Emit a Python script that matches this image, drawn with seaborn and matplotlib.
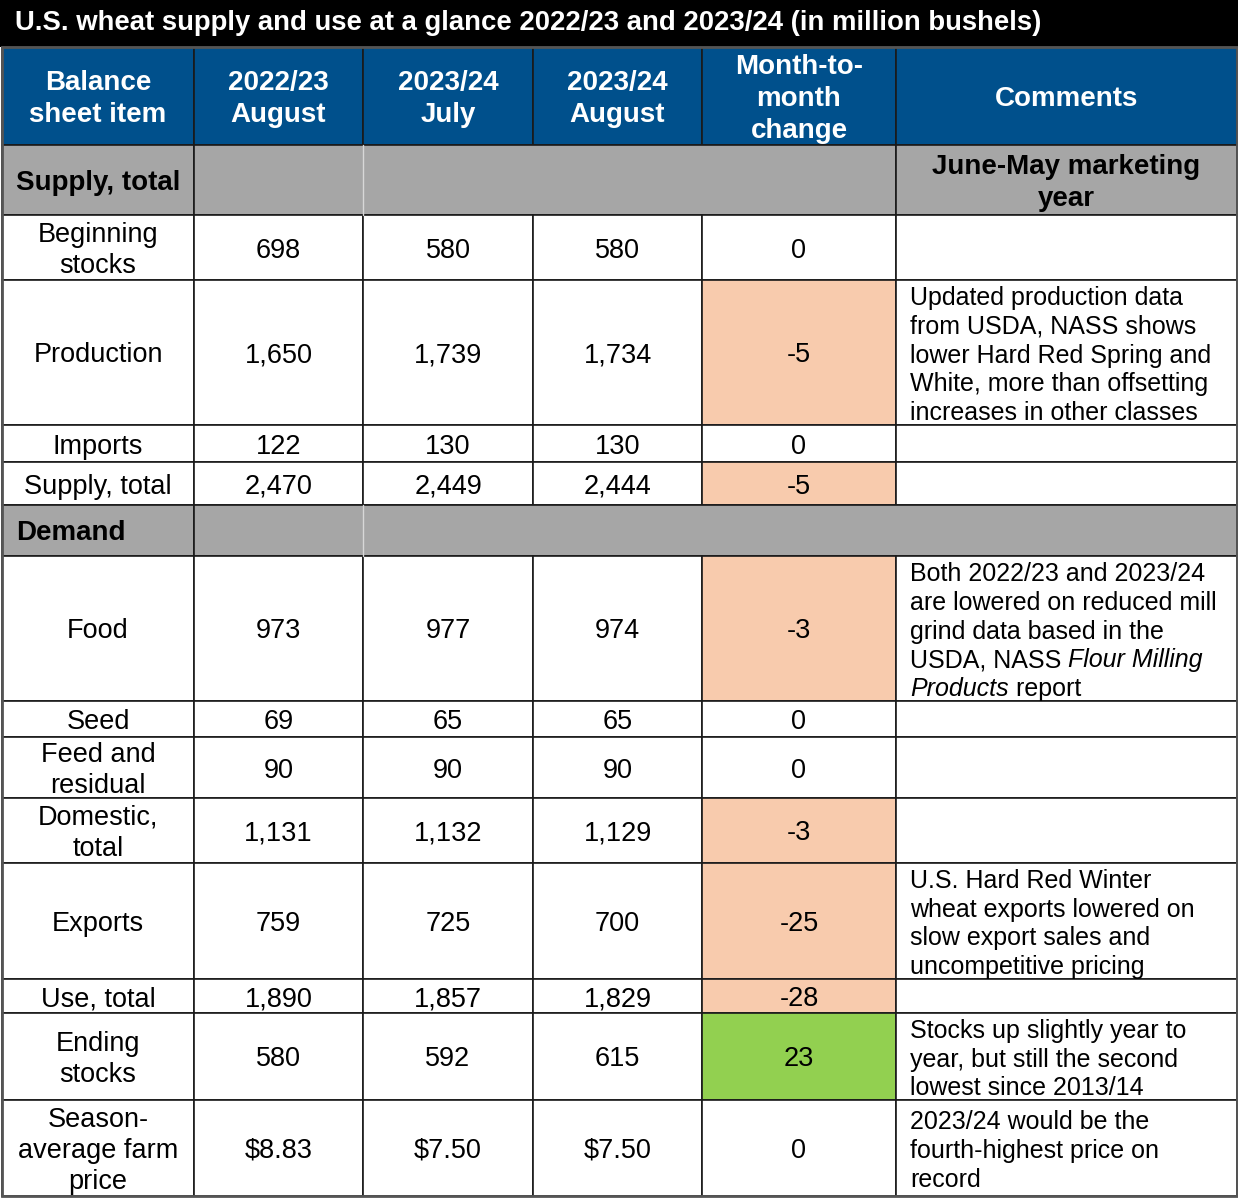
import matplotlib.pyplot as plt
import seaborn as sns
from matplotlib.patches import Rectangle

# table content
title = "U.S. wheat supply and use at a glance 2022/23 and 2023/24 (in million bushels)"
headers = ["Balance\nsheet item", "2022/23\nAugust", "2023/24\nJuly", "2023/24\nAugust",
           "Month-to-\nmonth\nchange", "Comments"]
sections = ["Supply, total", "Demand"]
section_note = "June-May marketing\nyear"

items = ["Beginning\nstocks", "Production", "Imports", "Supply, total",
         "Food", "Seed", "Feed and\nresidual", "Domestic,\ntotal", "Exports",
         "Use, total", "Ending\nstocks", "Season-\naverage farm\nprice"]
aug_2223 = [698, 1650, 122, 2470, 973, 69, 90, 1131, 759, 1890, 580, 8.83]
jul_2324 = [580, 1739, 130, 2449, 977, 65, 90, 1132, 725, 1857, 592, 7.50]
aug_2324 = [580, 1734, 130, 2444, 974, 65, 90, 1129, 700, 1829, 615, 7.50]
change = [0, -5, 0, -5, -3, 0, 0, -3, -25, -28, 23, 0]
# _text_ = italic
comments = [
    None,
    "Updated production data\nfrom USDA, NASS shows\nlower Hard Red Spring and\nWhite, more than offsetting\nincreases in other classes",
    None, None,
    "Both 2022/23 and 2023/24\nare lowered on reduced mill\ngrind data based in the\nUSDA, NASS _Flour Milling_\n_Products_ report",
    None, None, None,
    "U.S. Hard Red Winter\nwheat exports lowered on\nslow export sales and\nuncompetitive pricing",
    None,
    "Stocks up slightly year to\nyear, but still the second\nlowest since 2013/14",
    "2023/24 would be the\nfourth-highest price on\nrecord",
]

# layout (pixels)
col_x = [2, 194, 363, 533, 702, 896, 1237]
title_h = 47
header_h = 98
section_h = [70, 51]
item_h = [65, 145, 37, 43, 145, 36, 61, 65, 116, 34, 87, 96]

BLUE = "#00508C"
GREY = "#A6A6A6"
SALMON = "#F8CBAD"
GREEN = "#92D050"
LINE = "#1a1a1a"

sns.set_theme(style="white")
plt.rcParams['font.family'] = ['Liberation Sans', 'DejaVu Sans']

fig = plt.figure(figsize=(12.38, 11.98), dpi=100)
ax = fig.add_axes([0, 0, 1, 1])
ax.set_xlim(0, 1238)
ax.set_ylim(1198, 0)
ax.axis('off')
renderer = fig.canvas.get_renderer()

FS = 19.5
HFS = 20
CFS = 18
LS = 31
DY = 3


def cell(x0, x1, y0, y1, color, edge=LINE, lw=1.2):
    ax.add_patch(Rectangle((x0, y0), x1 - x0, y1 - y0, facecolor=color,
                           edgecolor=edge, linewidth=lw))


def put(x, yc, text, spacing=LS, ha='center', **kw):
    lines = text.split("\n")
    top = yc + DY - spacing * (len(lines) - 1) / 2
    for i, ln in enumerate(lines):
        y = top + i * spacing
        if "_" not in ln:
            ax.text(x, y, ln, ha=ha, va='center', **kw)
            continue
        # mixed italic line, left aligned
        cx = x
        for j, seg in enumerate(ln.split("_")):
            if not seg:
                continue
            t = ax.text(cx, y, seg, ha='left', va='center',
                        style='italic' if j % 2 else 'normal', **kw)
            cx += t.get_window_extent(renderer).width


def mid(c):
    return (col_x[c] + col_x[c + 1]) / 2


# title bar
ax.add_patch(Rectangle((0, 0), 1238, title_h, facecolor='black', edgecolor='none'))
ax.text(15, title_h / 2, title, color='white', fontsize=HFS - 0.2, fontweight='bold',
        ha='left', va='center')

# header
y0 = title_h
for c, h in enumerate(headers):
    cell(col_x[c], col_x[c + 1], y0, y0 + header_h, BLUE)
    put(mid(c), y0 + header_h / 2, h, spacing=31.5, color='white', fontsize=HFS,
        fontweight='bold')
y = y0 + header_h


def section_row(y, h, label, note):
    cell(col_x[0], col_x[1], y, y + h, GREY)
    right = col_x[5] if note else col_x[6]
    cell(col_x[1], right, y, y + h, GREY)
    ax.plot([col_x[2], col_x[2]], [y, y + h], color='#d8d8d8', lw=1)
    if note:
        cell(col_x[5], col_x[6], y, y + h, GREY)
        put(mid(5), y + h / 2, note, spacing=32, fontsize=HFS, fontweight='bold', color='black')
    ax.text(16, y + h / 2 + DY, label, fontsize=HFS, fontweight='bold', ha='left',
            va='center', color='black')


def fmt(v):
    if isinstance(v, float):
        return f"${v:.2f}"
    return f"{v:,}"


for i, name in enumerate(items):
    if i == 0:
        section_row(y, section_h[0], sections[0], section_note)
        y += section_h[0]
    if i == 4:
        section_row(y, section_h[1], sections[1], None)
        y += section_h[1]
    h = item_h[i]
    chg_color = SALMON if change[i] < 0 else (GREEN if change[i] > 0 else 'white')
    colors = ['white', 'white', 'white', 'white', chg_color, 'white']
    for c in range(6):
        cell(col_x[c], col_x[c + 1], y, y + h, colors[c])
    yc = y + h / 2
    put(mid(0), yc, name, fontsize=FS, color='black')
    put(mid(1), yc, fmt(aug_2223[i]), fontsize=FS, color='black')
    put(mid(2), yc, fmt(jul_2324[i]), fontsize=FS, color='black')
    put(mid(3), yc, fmt(aug_2324[i]), fontsize=FS, color='black')
    put(mid(4), yc, str(change[i]), fontsize=FS, color='black')
    if comments[i]:
        put(910, yc, comments[i], spacing=28.7, ha='left', fontsize=CFS, color='black')
    y += h

# outer frame
ax.add_patch(Rectangle((col_x[0], title_h), col_x[6] - col_x[0], y - title_h,
                       facecolor='none', edgecolor='#555555', linewidth=2))

fig.savefig("out.png", dpi=100)
